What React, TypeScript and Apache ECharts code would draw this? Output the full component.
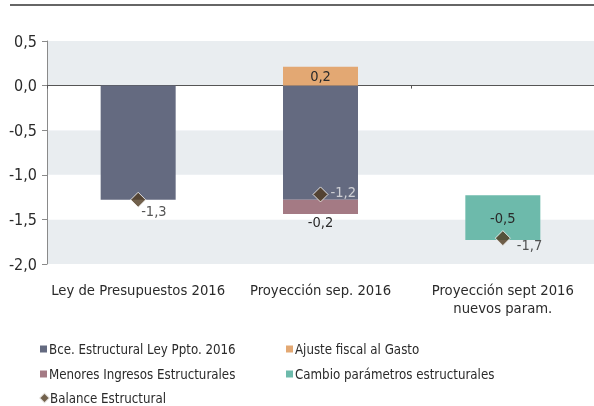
import React, { useEffect, useRef } from "react";
import * as echarts from "echarts";

const categories = ["Ley de Presupuestos 2016", "Proyección sep. 2016", "Proyección sept 2016\nnuevos param."];
const bceValues = [-1.28, -1.28, null];
const menoresValues = [null, -0.16, null];
const ajusteValues = [null, 0.21, null];
const baseValues = [null, null, -1.23];
const cambioValues = [null, null, -0.5];
const balanceValues = [-1.28, -1.22, -1.71];
const yTicks = { min: -2, max: 0.5, interval: 0.5 };

const FONT = "'Liberation Sans Narrow', 'DejaVu Sans Condensed', sans-serif";
const fmt = (v: number) => (Math.round(v * 10) / 10).toFixed(1).replace(".", ",");

export default function App() {
  const ref = useRef<HTMLDivElement>(null);
  useEffect(() => {
    if (!ref.current) return;
    const chart = echarts.init(ref.current, undefined, { renderer: "svg" });
    const textColor = "#2a2a2a";
    const legendItem = (name: string, icon: string, left: number, top: number, size: number, pad: number) => ({
      left, top, padding: 0, orient: "horizontal", itemWidth: size, itemHeight: size,
      data: [{ name, icon }],
      textStyle: { fontFamily: FONT, fontSize: 13.2, color: textColor, padding: [0, 0, 0, pad], lineHeight: 16 },
    });
    chart.setOption({
      animation: false,
      textStyle: { fontFamily: FONT },
      graphic: [
        { type: "line", shape: { x1: 10, y1: 5, x2: 594, y2: 5 }, style: { stroke: "#333", lineWidth: 1.5 } },
      ],
      grid: { left: 47, top: 41, right: -6, bottom: 142, containLabel: false },
      legend: [
        legendItem("Bce. Estructural Ley Ppto. 2016", "rect", 40, 341, 7, -3),
        legendItem("Menores Ingresos Estructurales", "rect", 40, 366, 7, -3),
        legendItem("Balance Estructural", "diamond", 38, 390, 11, -5),
        legendItem("Ajuste fiscal al Gasto", "rect", 286, 341, 7, -3),
        legendItem("Cambio parámetros estructurales", "rect", 286, 366, 7, -3),
      ],
      xAxis: [
        {
          type: "category", data: categories, position: "bottom",
          axisLine: { show: false, onZero: false }, axisTick: { show: false },
          axisLabel: { fontFamily: FONT, fontSize: 14.7, color: textColor, margin: 16, lineHeight: 18, interval: 0 },
        },
        {
          type: "category", data: categories, position: "bottom",
          axisLine: { show: true, onZero: true, lineStyle: { color: "#555", width: 1 } },
          axisTick: { show: true, length: 3, lineStyle: { color: "#555" } },
          axisLabel: { show: false },
        },
      ],
      yAxis: {
        type: "value", min: yTicks.min, max: yTicks.max, interval: yTicks.interval,
        axisLine: { show: true, lineStyle: { color: "#8a8a8a" } },
        axisTick: { show: true, length: 5, lineStyle: { color: "#8a8a8a" } },
        splitLine: { show: false },
        splitArea: { show: true, areaStyle: { color: ["#e9edf0", "#ffffff"] } },
        axisLabel: { fontFamily: FONT, fontSize: 16, color: textColor, margin: 10, formatter: (v: number) => fmt(v) },
      },
      series: [
        {
          name: "Bce. Estructural Ley Ppto. 2016", type: "bar", stack: "a", data: bceValues, barWidth: 75,
          itemStyle: { color: "#646a80" },
        },
        {
          name: "Menores Ingresos Estructurales", type: "bar", stack: "a", data: menoresValues, barWidth: 75,
          itemStyle: { color: "#a47a84" },
          label: { show: true, position: "bottom", distance: 0, fontFamily: FONT, fontSize: 14.5, color: textColor, formatter: (p: any) => fmt(p.value) },
        },
        {
          name: "Ajuste fiscal al Gasto", type: "bar", stack: "a", data: ajusteValues, barWidth: 75,
          itemStyle: { color: "#e3a873" },
          label: { show: true, position: "inside", fontFamily: FONT, fontSize: 14.5, color: textColor, formatter: (p: any) => fmt(p.value) },
        },
        {
          name: "base", type: "bar", stack: "a", data: baseValues, barWidth: 75, silent: true,
          itemStyle: { color: "transparent" },
        },
        {
          name: "Cambio parámetros estructurales", type: "bar", stack: "a", data: cambioValues, barWidth: 75,
          itemStyle: { color: "#6dbaab" },
          label: { show: true, position: "inside", fontFamily: FONT, fontSize: 14.5, color: textColor, formatter: (p: any) => fmt(p.value) },
        },
        {
          name: "Balance Estructural", type: "scatter", symbol: "diamond", symbolSize: 15,
          data: balanceValues.map((v, i) => ({
            value: v,
            label: {
              offset: i === 0 ? [-7, 11] : i === 1 ? [0, -2] : [4, 7],
              color: i === 1 ? "#e8e8e8" : textColor,
            },
          })),
          itemStyle: { color: "#4f3a1f", borderColor: "#ffffff", borderWidth: 1 },
          label: { show: true, position: "right", distance: 2, fontFamily: FONT, fontSize: 14.5, formatter: (p: any) => fmt(p.value) },
          z: 5,
        },
      ],
    });
    return () => chart.dispose();
  }, []);
  return <div ref={ref} style={{ position: "fixed", left: 0, top: 0, width: 594, height: 406 }} />;
}
